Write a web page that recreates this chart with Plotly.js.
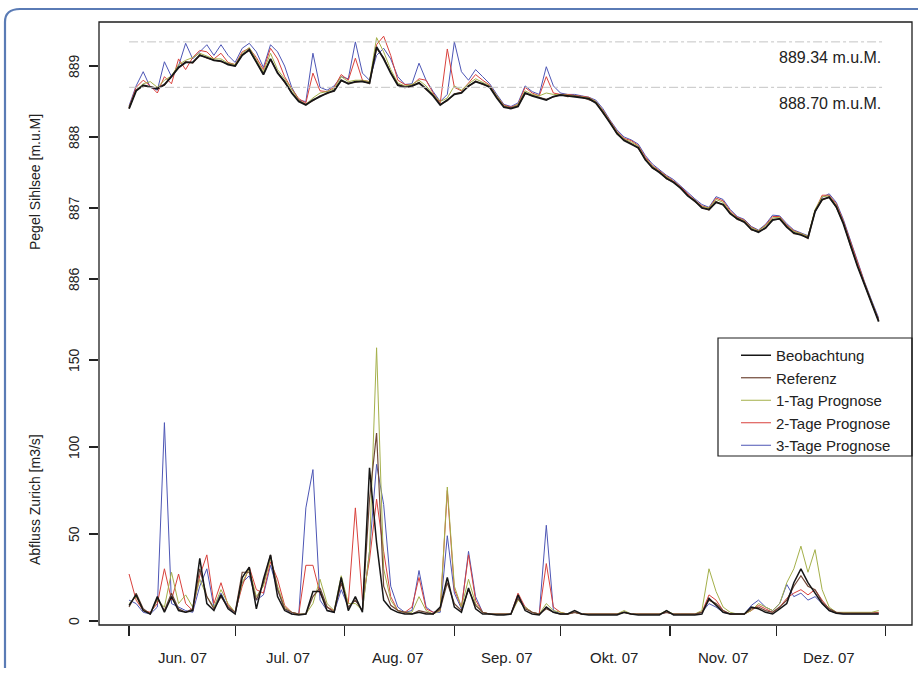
<!DOCTYPE html>
<html>
<head>
<meta charset="utf-8">
<script src="https://cdn.plot.ly/plotly-3.0.1.min.js"></script>
<style>html,body{margin:0;padding:0;background:#fff;}#chart{width:918px;height:676px;}</style>
</head>
<body>
<div id="chart"></div>
<script>
// ---- data ----
const dates = [
 '2007-06-01','2007-06-03','2007-06-05','2007-06-07','2007-06-09','2007-06-11','2007-06-13','2007-06-15','2007-06-17','2007-06-19',
 '2007-06-21','2007-06-23','2007-06-25','2007-06-27','2007-06-29','2007-07-01','2007-07-03','2007-07-05','2007-07-07','2007-07-09',
 '2007-07-11','2007-07-13','2007-07-15','2007-07-17','2007-07-19','2007-07-21','2007-07-23','2007-07-25','2007-07-27','2007-07-29',
 '2007-07-31','2007-08-02','2007-08-04','2007-08-06','2007-08-08','2007-08-10','2007-08-12','2007-08-14','2007-08-16','2007-08-18',
 '2007-08-20','2007-08-22','2007-08-24','2007-08-26','2007-08-28','2007-08-30','2007-09-01','2007-09-03','2007-09-05','2007-09-07',
 '2007-09-09','2007-09-11','2007-09-13','2007-09-15','2007-09-17','2007-09-19','2007-09-21','2007-09-23','2007-09-25','2007-09-27',
 '2007-09-29','2007-10-01','2007-10-03','2007-10-05','2007-10-07','2007-10-09','2007-10-11','2007-10-13','2007-10-15','2007-10-17',
 '2007-10-19','2007-10-21','2007-10-23','2007-10-25','2007-10-27','2007-10-29','2007-10-31','2007-11-02','2007-11-04','2007-11-06',
 '2007-11-08','2007-11-10','2007-11-12','2007-11-14','2007-11-16','2007-11-18','2007-11-20','2007-11-22','2007-11-24','2007-11-26',
 '2007-11-28','2007-11-30','2007-12-02','2007-12-04','2007-12-06','2007-12-08','2007-12-10','2007-12-12','2007-12-14','2007-12-16',
 '2007-12-18','2007-12-20','2007-12-22','2007-12-24','2007-12-26','2007-12-28','2007-12-30'
];

const seriesNames = ['Beobachtung','Referenz','1-Tag Prognose','2-Tage Prognose','3-Tage Prognose'];

// Pegel Sihlsee [m.u.M]
const pegelBeobachtung = [
 888.40,888.65,888.73,888.70,888.68,888.74,888.85,888.98,889.05,889.05,
 889.15,889.12,889.08,889.07,889.02,889.00,889.15,889.23,889.05,888.88,
 889.10,888.90,888.78,888.62,888.50,888.45,888.52,888.57,888.62,888.65,
 888.80,888.75,888.78,888.78,888.76,889.27,889.10,888.90,888.73,888.70,
 888.72,888.76,888.68,888.58,888.45,888.52,888.60,888.62,888.72,888.78,
 888.75,888.70,888.55,888.42,888.40,888.43,888.62,888.58,888.55,888.52,
 888.57,888.59,888.58,888.57,888.55,888.54,888.48,888.35,888.20,888.05,
 887.95,887.90,887.85,887.68,887.57,887.50,887.42,887.36,887.28,887.17,
 887.10,887.00,886.98,887.08,887.05,886.92,886.85,886.80,886.70,886.66,
 886.72,886.83,886.85,886.73,886.65,886.62,886.58,886.95,887.12,887.15,
 887.02,886.78,886.48,886.18,885.92,885.65,885.40
];
const pegelReferenz = [
 888.40,888.66,888.72,888.70,888.69,888.73,888.86,888.97,889.06,889.04,
 889.16,889.11,889.09,889.06,889.03,889.00,889.16,889.22,889.06,888.89,
 889.09,888.91,888.77,888.63,888.51,888.46,888.51,888.58,888.61,888.66,
 888.79,888.76,888.77,888.79,888.75,889.25,889.12,888.91,888.74,888.71,
 888.71,888.77,888.67,888.59,888.46,888.51,888.61,888.63,888.71,888.79,
 888.74,888.71,888.56,888.43,888.41,888.44,888.61,888.59,888.56,888.53,
 888.56,888.60,888.57,888.58,888.56,888.53,888.49,888.34,888.21,888.04,
 887.96,887.91,887.84,887.69,887.56,887.51,887.41,887.37,887.27,887.18,
 887.09,887.01,886.97,887.09,887.04,886.93,886.84,886.81,886.69,886.67,
 886.71,886.84,886.84,886.74,886.64,886.63,886.57,886.96,887.11,887.16,
 887.01,886.79,886.47,886.19,885.91,885.66,885.41
];
const pegel1Tag = [
 888.42,888.66,888.75,888.78,888.70,888.80,888.86,889.02,889.08,889.12,
 889.18,889.14,889.10,889.10,889.04,889.02,889.18,889.26,889.08,888.92,
 889.18,888.95,888.82,888.66,888.52,888.46,888.55,888.62,888.64,888.68,
 888.85,888.78,888.80,888.80,888.78,889.40,889.20,888.95,888.76,888.72,
 888.74,888.80,888.72,888.60,888.50,888.55,888.72,888.66,888.75,888.82,
 888.77,888.72,888.58,888.44,888.41,888.46,888.65,888.60,888.58,888.62,
 888.60,888.60,888.59,888.58,888.56,888.55,888.50,888.37,888.22,888.07,
 887.97,887.93,887.87,887.70,887.59,887.51,887.44,887.37,887.29,887.18,
 887.11,887.02,887.00,887.12,887.08,886.94,886.86,886.82,886.72,886.68,
 886.75,886.86,886.87,886.75,886.67,886.64,886.60,886.98,887.16,887.17,
 887.04,886.80,886.50,886.20,885.94,885.67,885.42
];
const pegel2Tage = [
 888.42,888.70,888.80,888.72,888.62,888.85,888.75,889.10,888.95,889.12,
 889.22,889.20,889.10,889.18,889.05,889.02,889.20,889.25,889.12,888.95,
 889.25,889.10,888.85,888.68,888.54,888.48,888.90,888.65,888.64,888.70,
 888.88,888.80,889.11,888.80,888.78,889.30,889.42,889.15,888.80,888.74,
 888.73,888.82,888.80,888.62,888.48,889.24,888.70,888.65,888.76,888.88,
 888.80,888.73,888.58,888.45,888.42,888.46,888.70,888.62,888.58,888.85,
 888.62,888.60,888.60,888.59,888.57,888.56,888.50,888.38,888.23,888.08,
 887.98,887.95,887.88,887.72,887.60,887.52,887.45,887.38,887.30,887.20,
 887.12,887.03,887.00,887.14,887.10,886.96,886.87,886.83,886.73,886.68,
 886.76,886.88,886.88,886.76,886.68,886.64,886.60,886.96,887.18,887.18,
 887.06,886.82,886.52,886.22,885.95,885.68,885.43
];
const pegel3Tage = [
 888.44,888.72,888.92,888.70,888.66,889.06,888.85,889.00,889.32,889.10,
 889.20,889.30,889.15,889.30,889.15,889.05,889.25,889.32,889.20,888.98,
 889.30,889.20,889.00,888.70,888.52,888.50,889.18,888.70,888.66,888.72,
 888.85,888.82,889.34,888.90,888.80,889.15,889.25,889.10,888.85,888.74,
 888.75,889.04,888.80,888.64,888.50,888.60,889.34,888.92,888.80,888.95,
 888.85,888.75,888.60,888.46,888.43,888.48,888.72,888.64,888.60,888.99,
 888.72,888.62,888.60,888.60,888.58,888.56,888.52,888.40,888.24,888.10,
 888.00,887.96,887.90,887.74,887.62,887.54,887.46,887.40,887.31,887.21,
 887.13,887.05,887.01,887.16,887.12,886.98,886.88,886.84,886.74,886.69,
 886.77,886.90,886.89,886.78,886.69,886.65,886.61,886.94,887.15,887.20,
 887.08,886.84,886.54,886.24,885.96,885.70,885.45
];

// Abfluss Zurich [m3/s]
const abflussBeobachtung = [
 9,15,6,4,14,5,14,6,5,6,
 36,10,6,15,7,4,25,31,7,24,
 38,14,6,4,3.5,4,17,17,6,5,
 25,6,14,5,88,45,12,7,5,4,
 4,5,4,4,8,25,8,5,19,7,
 4,4,3.5,3.5,4,15,6,4,3.5,8,
 5,4,4,6,4,3.5,3.5,3.5,3.5,3.5,
 5,4,3.5,3.5,3.5,3.5,6,3.5,3.5,3.5,
 3.5,4,13,9,5,4,4,4,8,7,
 5,4,7,10,22,30,22,16,10,6,
 4.5,4,4,4,4,4,4
];
const abflussReferenz = [
 8,16,7,4,13,6,16,7,5,7,
 30,14,7,14,8,5,28,28,12,22,
 38,18,7,5,4,4,14,19,8,5,
 22,8,12,6,70,108,20,9,6,5,
 4,6,5,4,7,22,10,6,18,9,
 5,4,4,4,4,13,7,5,4,7,
 5,4,4,5,4,4,4,4,4,4,
 5,4,4,4,4,4,5,4,4,4,
 4,5,12,10,6,4,4,4,7,8,
 6,5,8,12,20,26,20,18,11,7,
 5,4.5,4.5,4.5,4.5,4.5,4.5
];
const abfluss1Tag = [
 10,14,6,4,12,8,28,10,15,8,
 24,14,8,18,10,5,22,30,14,20,
 36,20,8,5,4,4,10,24,10,6,
 26,10,10,6,40,157,30,12,6,5,
 5,14,6,4,6,77,20,8,24,10,
 5,4,4,4,4,12,8,5,4,10,
 6,5,4,5,4,4,4,4,4,4,
 6,4,4,4,4,4,6,4,4,4,
 4,6,30,17,8,5,4,4,6,10,
 8,6,10,22,30,43,28,41,18,8,
 5,5,5,5,5,5,6
];
const abfluss2Tage = [
 27,12,6,5,10,30,12,27,10,6,
 26,38,10,22,9,5,20,31,18,16,
 34,24,9,5,4,32,32,16,8,6,
 22,10,65,12,35,70,40,14,6,5,
 8,25,7,5,6,75,18,8,38,12,
 5,4,4,4,4,16,8,5,4,33,
 8,5,4,5,4,4,4,4,4,4,
 5,4,4,4,4,4,5,4,4,4,
 4,5,15,12,6,4,4,4,6,9,
 7,5,8,13,16,18,15,18,12,7,
 5,4.5,4.5,4.5,4.5,4.5,5
];
const abfluss3Tage = [
 12,10,5,4,8,114,10,8,6,5,
 20,30,8,16,8,4,22,26,12,15,
 32,18,7,4,4,65,87,12,6,5,
 18,8,12,6,40,90,67,20,8,5,
 6,29,8,5,5,49,16,7,40,14,
 5,4,4,4,4,14,8,5,4,55,
 6,4,4,5,4,4,4,4,4,4,
 5,4,4,4,4,4,5,4,4,4,
 4,5,10,8,5,4,4,4,9,12,
 8,6,10,21,14,16,12,14,10,6,
 4.5,4,4,4,4,4,4
];

const monthStarts = ['2007-06-01','2007-07-01','2007-08-01','2007-09-01','2007-10-01','2007-11-01','2007-12-01','2008-01-01'];
const monthMids = ['2007-06-16','2007-07-16','2007-08-16','2007-09-16','2007-10-16','2007-11-16','2007-12-16'];
const monthLabels = ['Jun. 07','Jul. 07','Aug. 07','Sep. 07','Okt. 07','Nov. 07','Dez. 07'];
const pegelTicks = [886, 887, 888, 889];
const abflussTicks = [0, 50, 100, 150];
const refLevels = [889.34, 888.70];
const refLabels = ['889.34 m.u.M.', '888.70 m.u.M.'];

// ---- styling ----
const colors = ['#161616', '#6e4636', '#a4b04a', '#d9413c', '#4d56b5'];
const widths = [1.8, 1.2, 1, 1, 1];
const pegelData = [pegelBeobachtung, pegelReferenz, pegel1Tag, pegel2Tage, pegel3Tage];
const abflussData = [abflussBeobachtung, abflussReferenz, abfluss1Tag, abfluss2Tage, abfluss3Tage];

const traces = [];
for (let k = seriesNames.length - 1; k >= 0; k--) {
  traces.push({
    x: dates, y: pegelData[k], type: 'scatter', mode: 'lines',
    xaxis: 'x', yaxis: 'y2', name: seriesNames[k], legendgroup: 'g' + k,
    showlegend: false, line: {color: colors[k], width: widths[k]}, hoverinfo: 'skip'
  });
  traces.push({
    x: dates, y: abflussData[k], type: 'scatter', mode: 'lines',
    xaxis: 'x', yaxis: 'y', name: seriesNames[k], legendgroup: 'g' + k,
    legendrank: k + 1, showlegend: true,
    line: {color: colors[k], width: k === 0 ? 1.5 : widths[k]}, hoverinfo: 'skip'
  });
}

const W = 918, H = 676, ML = 99, MR = 6, MT = 22, MB = 51;
const PW = W - ML - MR, PH = H - MT - MB;
const px = v => (v - ML) / PW;          // pixel -> paper x
const py = v => (H - MB - v) / PH;      // pixel -> paper y

const font = 'Liberation Sans, Arial, Helvetica, sans-serif';
const xRange = ['2007-05-23 12:00', '2008-01-08 10:00'];

const shapes = [
  // plot box
  {type: 'rect', xref: 'paper', yref: 'paper', x0: 0, x1: 1, y0: 0, y1: 1, line: {color: '#1e1e1e', width: 1.3}},
  // legend box
  {type: 'rect', xref: 'paper', yref: 'paper', x0: px(718), x1: 1, y0: py(456), y1: py(338), line: {color: '#1e1e1e', width: 1.2}, fillcolor: 'rgba(0,0,0,0)'},
  // blue scan frame
  {type: 'path', xref: 'paper', yref: 'paper',
   path: `M ${px(5)},${py(668)} L ${px(5)},${py(22)} Q ${px(5)},${py(9)} ${px(20)},${py(9)} L ${px(918)},${py(9)}`,
   line: {color: '#5a7bb5', width: 2.2}}
];
refLevels.forEach(v => shapes.push({
  type: 'line', xref: 'x', yref: 'y2', x0: '2007-06-01', x1: '2007-12-31', y0: v, y1: v,
  line: {color: '#c4c4c4', width: 1, dash: 'dashdot'}
}));

const annotations = [
  {text: 'Pegel Sihlsee [m.u.M]', xref: 'paper', yref: 'paper', x: px(35), y: py(182), textangle: -90,
   showarrow: false, font: {family: font, size: 14, color: '#222'}, xanchor: 'center', yanchor: 'middle'},
  {text: 'Abfluss Zurich [m3/s]', xref: 'paper', yref: 'paper', x: px(35), y: py(500), textangle: -90,
   showarrow: false, font: {family: font, size: 14, color: '#222'}, xanchor: 'center', yanchor: 'middle'}
];
refLevels.forEach((v, i) => annotations.push({
  text: refLabels[i], xref: 'paper', yref: 'y2', x: px(883), y: v, yshift: -16,
  xanchor: 'right', yanchor: 'middle', showarrow: false, font: {family: font, size: 16, color: '#222'}
}));
monthMids.forEach((d, i) => annotations.push({
  text: monthLabels[i], xref: 'x', yref: 'paper', x: d, y: py(657),
  xanchor: 'center', yanchor: 'middle', showarrow: false, font: {family: font, size: 15, color: '#222'}
}));
pegelTicks.forEach(v => annotations.push({
  text: String(v), xref: 'paper', yref: 'y2', x: px(74), y: v, textangle: -90,
  xanchor: 'center', yanchor: 'middle', showarrow: false, font: {family: font, size: 14, color: '#222'}
}));
abflussTicks.forEach(v => annotations.push({
  text: String(v), xref: 'paper', yref: 'y', x: px(74), y: v, textangle: -90,
  xanchor: 'center', yanchor: 'middle', showarrow: false, font: {family: font, size: 14, color: '#222'}
}));

const layout = {
  width: W, height: H,
  margin: {l: ML, r: MR, t: MT, b: MB, pad: 0},
  paper_bgcolor: '#fff', plot_bgcolor: 'rgba(0,0,0,0)',
  showlegend: true,
  legend: {x: px(736), y: py(339), xanchor: 'left', yanchor: 'top', bgcolor: 'rgba(0,0,0,0)',
           borderwidth: 0, font: {family: font, size: 15, color: '#222'}, tracegroupgap: 1,
           itemwidth: 30, traceorder: 'normal'},
  xaxis: {type: 'date', range: xRange, tickvals: monthStarts, ticktext: monthStarts.map(() => ''),
          ticks: 'outside', ticklen: 10, tickwidth: 1.2, tickcolor: '#222', showgrid: false,
          zeroline: false, showline: false, anchor: 'y', fixedrange: true},
  yaxis: {domain: [0, 0.6], range: [-2.3, 205.6], tickvals: abflussTicks, ticktext: abflussTicks.map(() => ''),
          ticks: 'outside', ticklen: 9, tickwidth: 1.2, tickcolor: '#222',
          showgrid: false, zeroline: false, showline: false, anchor: 'x'},
  yaxis2: {domain: [0.4, 1], range: [884.524, 889.62], tickvals: pegelTicks, ticktext: pegelTicks.map(() => ''),
           ticks: 'outside', ticklen: 9, tickwidth: 1.2, tickcolor: '#222',
           showgrid: false, zeroline: false, showline: false, anchor: 'x'},
  shapes: shapes,
  annotations: annotations
};

Plotly.newPlot('chart', traces, layout, {staticPlot: true, displayModeBar: false});
</script>
</body>
</html>
